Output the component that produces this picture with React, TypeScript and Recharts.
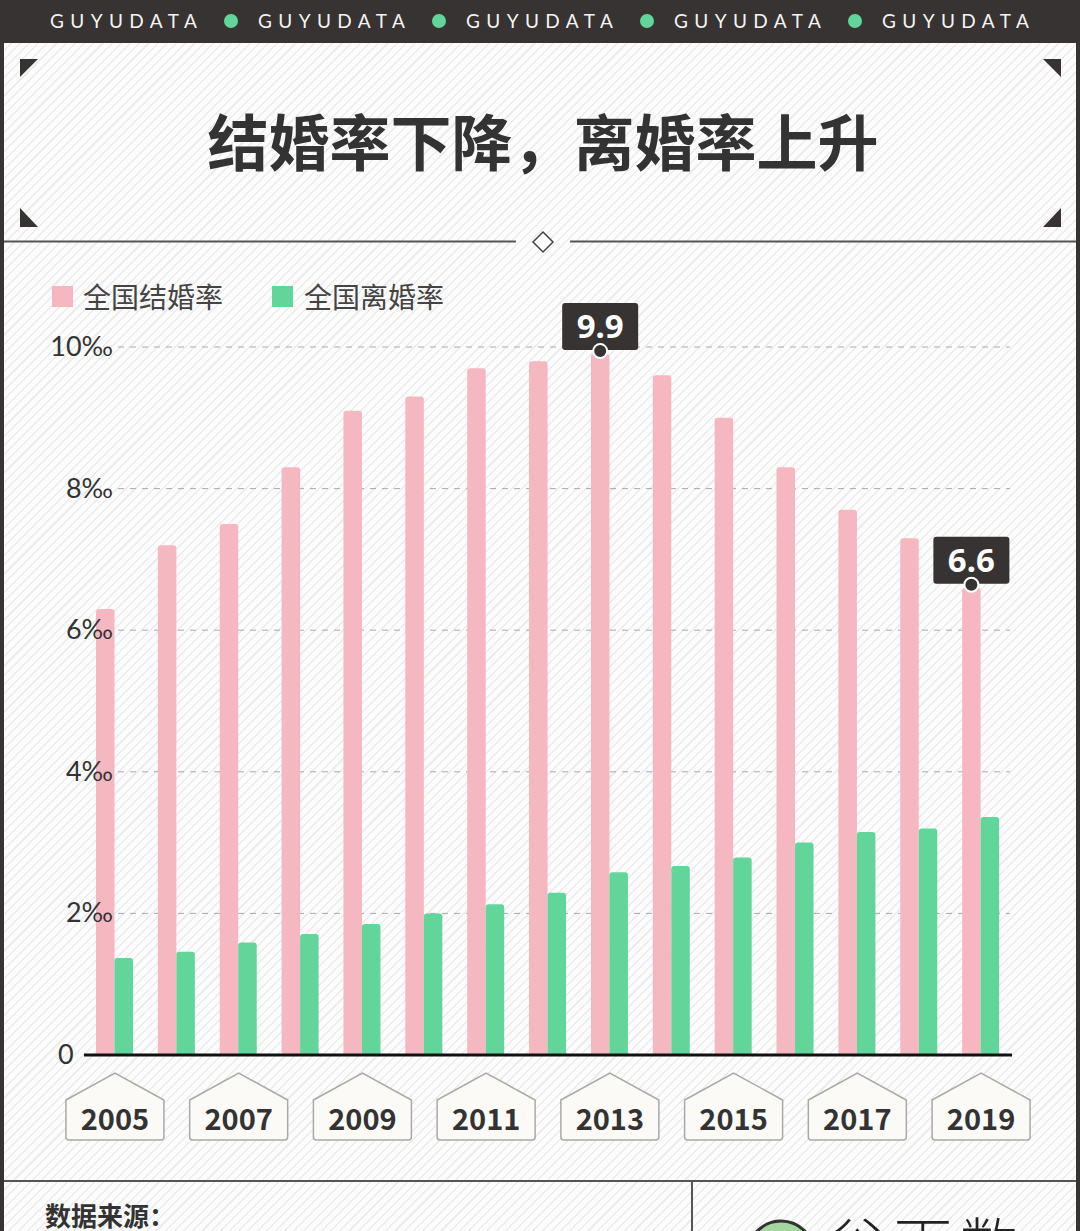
import { BarChart, Bar, XAxis, YAxis, CartesianGrid, LabelList } from 'recharts';

const years = ['2005', '2006', '2007', '2008', '2009', '2010', '2011', '2012', '2013', '2014', '2015', '2016', '2017', '2018', '2019'];
const marriageRate = [6.3, 7.2, 7.5, 8.3, 9.1, 9.3, 9.7, 9.8, 9.9, 9.6, 9.0, 8.3, 7.7, 7.3, 6.6];
const divorceRate = [1.37, 1.46, 1.59, 1.71, 1.85, 2.0, 2.13, 2.29, 2.58, 2.67, 2.79, 3.0, 3.15, 3.2, 3.36];
const yTicks = [0, 2, 4, 6, 8, 10];
const labeledYears = ['2013', '2019'];
const seriesNames = ['全国结婚率', '全国离婚率'];

const PINK = '#f5b8c0';
const GREEN = '#62d69a';
const DARK = '#373332';

const data = years.map((y, i) => ({ year: y, marriage: marriageRate[i], divorce: divorceRate[i] }));

const YearTick = (props: any) => {
    const { x, y, payload } = props;
    const w = 49;
    const path = `M ${x - w} ${y + 45} L ${x} ${y + 18} L ${x + w} ${y + 45} L ${x + w} ${y + 82} Q ${x + w} ${y + 85} ${x + w - 3} ${y + 85} L ${x - w + 3} ${y + 85} Q ${x - w} ${y + 85} ${x - w} ${y + 82} Z`;
    return (
        <g>
            <path d={path} fill="#fbfaf7" stroke="#a9a9a9" strokeWidth={1.5} />
            <text x={x} y={y + 75} textAnchor="middle" fontSize={29} fontWeight={700} fill="#333"
                fontFamily="'Noto Sans CJK SC', 'Noto Sans', sans-serif">{payload.value}</text>
        </g>
    );
};

const RateTick = (props: any) => {
    const { x, y, payload } = props;
    const zero = payload.value === 0;
    return (
        <text x={zero ? x - 26 : x + 29} y={y + 9} textAnchor={zero ? 'start' : 'end'} fontSize={27}
            fill="#333" fontFamily="Lato, 'Noto Sans', sans-serif">
            {zero ? '0' : `${payload.value}‰`}
        </text>
    );
};

const GridLine = (props: any) => {
    const { x1, x2, y1, index } = props;
    if (index === 0 || Math.abs(y1 - 1055) < 2) return <g key={`g-${index}`} />;
    return <line key={`g-${index}`} x1={x1 + 34} x2={x2 - 2} y1={y1} y2={y1} stroke="#aaa" strokeWidth={1} strokeDasharray="6 6" />;
};

const Callout = (props: any) => {
    const { x, y, width, value, index } = props;
    if (!labeledYears.includes(years[index])) return null;
    const cx = x + width / 2;
    return (
        <g>
            <rect x={cx - 38} y={y - 51} width={76} height={47} rx={3} fill={DARK} />
            <text x={cx} y={y - 16} textAnchor="middle" fontSize={33} fontWeight={700} fill="#fff"
                fontFamily="'Noto Sans', sans-serif">{Number(value).toFixed(1)}</text>
            <circle cx={cx} cy={y - 3} r={7} fill={DARK} stroke="#fff" strokeWidth={2} />
        </g>
    );
};

export default function App() {
    const stripes = 'repeating-linear-gradient(135deg, #fcfcfc 0px, #fcfcfc 5px, #ececec 5px, #ececec 6.5px)';
    const cjk = "'Noto Sans CJK SC', sans-serif";
    return (
        <div style={{ position: 'absolute', left: 0, top: 0, width: 1080, height: 1231, overflow: 'hidden', background: stripes }}>
            {/* top brand bar */}
            <div style={{ position: 'absolute', left: 0, top: 0, width: 1080, height: 43, background: DARK }}>
                {[0, 1, 2, 3, 4].map(i => (
                    <div key={i}>
                        <div style={{ position: 'absolute', left: 50 + i * 208, top: 9, color: '#f4f4f4', fontSize: 19, letterSpacing: 6.4, fontFamily: 'Lato, sans-serif', lineHeight: '24px' }}>GUYUDATA</div>
                        {i < 4 && <div style={{ position: 'absolute', left: 224 + i * 208, top: 14, width: 14, height: 14, borderRadius: 7, background: GREEN }} />}
                    </div>
                ))}
            </div>
            {/* side borders */}
            <div style={{ position: 'absolute', left: 0, top: 0, width: 4, height: 1231, background: DARK }} />
            <div style={{ position: 'absolute', right: 0, top: 0, width: 4, height: 1231, background: DARK }} />

            <svg width={1080} height={1231} style={{ position: 'absolute', left: 0, top: 0 }}>
                <polygon points="20,59 38,59 20,77" fill={DARK} />
                <polygon points="1043,59 1061,59 1061,77" fill={DARK} />
                <polygon points="20,208 20,227 38,227" fill={DARK} />
                <polygon points="1061,208 1061,227 1043,227" fill={DARK} />
                <line x1={4} x2={516} y1={241.5} y2={241.5} stroke="#555" strokeWidth={2} />
                <line x1={570} x2={1076} y1={241.5} y2={241.5} stroke="#555" strokeWidth={2} />
                <polygon points="543,232 553,242 543,252 533,242" fill="#fff" stroke="#444" strokeWidth={1.5} />
                <line x1={4} x2={1076} y1={1181} y2={1181} stroke="#555" strokeWidth={2} />
                <line x1={692} x2={692} y1={1181} y2={1231} stroke="#555" strokeWidth={2} />
                <circle cx={781} cy={1254} r={33} fill="#a5d6a0" stroke="#333" strokeWidth={3} />
            </svg>

            <div style={{ position: 'absolute', left: 0, width: 1086, top: 98, textAlign: 'center', fontSize: 61, fontWeight: 700, color: '#333', fontFamily: cjk, lineHeight: '84px' }}>
                结婚率下降，离婚率上升
            </div>

            {/* legend */}
            <div style={{ position: 'absolute', left: 52, top: 276, display: 'flex', alignItems: 'center', fontFamily: cjk, fontSize: 28, color: '#444' }}>
                <span style={{ width: 21, height: 21, background: PINK, display: 'inline-block', marginRight: 10 }} />
                <span style={{ marginRight: 49 }}>{seriesNames[0]}</span>
                <span style={{ width: 21, height: 21, background: GREEN, display: 'inline-block', marginRight: 11 }} />
                <span>{seriesNames[1]}</span>
            </div>

            <div style={{ position: 'absolute', left: 45, top: 1197, fontSize: 26, fontWeight: 700, color: '#333', fontFamily: cjk, lineHeight: '36px' }}>数据来源：</div>
            <div style={{ position: 'absolute', left: 828, top: 1206, fontSize: 58, color: '#222', fontFamily: cjk, fontWeight: 300, letterSpacing: 8, lineHeight: '70px' }}>谷雨数据</div>

            <div style={{ position: 'absolute', left: 0, top: 0 }}>
                <BarChart width={1080} height={1231} data={data} margin={{ top: 347, right: 68, bottom: 56, left: 0 }} barGap={0} barSize={18.5}>
                    <CartesianGrid vertical={false} horizontal={GridLine as any} />
                    <XAxis dataKey="year" interval={1} tickSize={0} tickMargin={0} height={120} tick={<YearTick />}
                        axisLine={{ stroke: '#111', strokeWidth: 3 }} tickLine={false} />
                    <YAxis domain={[0, 10]} ticks={yTicks} width={84} tickSize={0} tickMargin={0} axisLine={false} tickLine={false} tick={<RateTick />} />
                    <Bar dataKey="marriage" name={seriesNames[0]} fill={PINK} radius={[3, 3, 0, 0]} isAnimationActive={false}>
                        <LabelList dataKey="marriage" content={<Callout />} />
                    </Bar>
                    <Bar dataKey="divorce" name={seriesNames[1]} fill={GREEN} radius={[3, 3, 0, 0]} isAnimationActive={false} />
                </BarChart>
            </div>
        </div>
    );
}
